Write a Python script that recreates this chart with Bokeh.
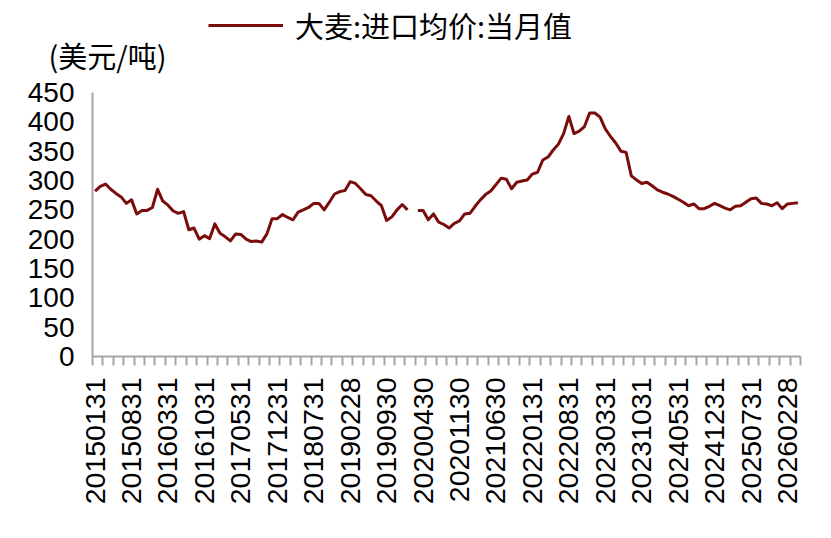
import math
from bokeh.plotting import figure
from bokeh.layouts import column
from bokeh.models import FixedTicker, Label, Legend, LegendItem, Range1d
from bokeh.embed import file_html
from bokeh.resources import INLINE

# ---- data ----
tick_labels = ["20150131", "20150831", "20160331", "20161031", "20170531",
               "20171231", "20180731", "20190228", "20190930", "20200430",
               "20201130", "20210630", "20220131", "20220831", "20230331",
               "20231031", "20240531", "20241231", "20250731", "20260228"]
label_step = 7
nan = float("nan")
values = [
    282, 290, 294, 285, 278, 272, 261, 267, 243, 249,
    249, 254, 285, 265, 258, 248, 244, 247, 216, 219,
    200, 206, 201, 226, 210, 204, 197, 209, 208, 200,
    196, 197, 195, 209, 235, 235, 242, 237, 233, 246,
    250, 254, 261, 261, 250, 263, 277, 281, 283, 298,
    295, 286, 276, 274, 265, 257, 232, 238, 250, 259,
    250, nan, 249, 249, 233, 243, 229, 225, 219, 227,
    231, 243, 244, 256, 267, 276, 282, 293, 304, 302,
    286, 297, 299, 301, 311, 314, 335, 340, 352, 362,
    380, 409, 380, 384, 392, 415, 415, 408, 388, 375,
    364, 350, 348, 308, 301, 295, 297, 291, 284, 280,
    277, 273, 268, 263, 257, 260, 252, 252, 256, 261,
    257, 253, 250, 256, 257, 263, 269, 270, 261, 260,
    257, 262, 252, 260, 261, 262,
]
series_name = "大麦:进口均价:当月值"
unit_label = "(美元/吨)"
y_ticks = [0, 50, 100, 150, 200, 250, 300, 350, 400, 450]

n = len(values)
xs = list(range(n))

LINE = "#7B0C0C"
AXIS = "#A6A6A6"
NUM_FONT = "Liberation Sans"
CJK_FONT = "Noto Sans CJK SC"
W = 815
TOP_H = 78
FRAME_LEFT, FRAME_RIGHT, FRAME_TOP, FRAME_BOTTOM = 92, 800, 92, 356

# ---- header strip (legend + unit label) ----
head = figure(width=W, height=TOP_H, output_backend="svg", toolbar_location=None,
              x_range=Range1d(0, 1), y_range=Range1d(0, 1),
              min_border=0, min_border_left=0, min_border_right=0,
              min_border_top=0, min_border_bottom=0)
head.axis.visible = False
head.grid.visible = False
head.outline_line_color = None
# legend swatch renderer: the series itself, kept outside the strip's visible range
swatch = head.line(xs, values, line_color=LINE, line_width=3)
legend = Legend(items=[LegendItem(label=series_name, renderers=[swatch])],
                location=(208, 32), orientation="horizontal",
                border_line_color=None, background_fill_alpha=0,
                padding=0, margin=0, spacing=0,
                glyph_width=75, glyph_height=30, label_height=30,
                label_standoff=12,
                label_text_font=CJK_FONT, label_text_font_size="29px",
                label_text_color="black")
head.add_layout(legend, "center")
head.add_layout(Label(x=48, y=24, x_units="screen", y_units="screen",
                      text=unit_label, text_baseline="middle", text_align="left",
                      text_font=CJK_FONT, text_font_size="29px", text_color="black"))

# ---- main chart ----
p = figure(width=W, height=522 - TOP_H, output_backend="svg", toolbar_location=None,
           x_range=Range1d(-0.5, n - 0.5), y_range=Range1d(0, 450),
           min_border_left=FRAME_LEFT, min_border_right=W - FRAME_RIGHT,
           min_border_top=FRAME_TOP - TOP_H, min_border_bottom=522 - FRAME_BOTTOM)
p.outline_line_color = None
p.xgrid.visible = False
p.ygrid.visible = False

p.line(xs, values, line_color=LINE, line_width=3, line_join="round")

# x axis
label_pos = list(range(0, n, label_step))[:len(tick_labels)]
bounds = [-0.5 + 2 * k for k in range(n // 2 + 1)]
p.xaxis.ticker = FixedTicker(ticks=label_pos, minor_ticks=bounds)
p.xaxis.major_label_overrides = {pos: lab for pos, lab in zip(label_pos, tick_labels)}
p.xaxis.major_label_orientation = math.pi / 2
p.xaxis.major_tick_line_color = None
p.xaxis.major_tick_out = 0
p.xaxis.major_tick_in = 0
p.xaxis.minor_tick_line_color = AXIS
p.xaxis.minor_tick_line_width = 2
p.xaxis.minor_tick_out = 9
p.xaxis.minor_tick_in = 0
p.xaxis.axis_line_color = AXIS
p.xaxis.axis_line_width = 2
p.xaxis.major_label_standoff = 12
p.xaxis.major_label_text_font = NUM_FONT
p.xaxis.major_label_text_font_size = "28.5px"
p.xaxis.major_label_text_color = "black"

# y axis
p.yaxis.ticker = FixedTicker(ticks=y_ticks)
p.yaxis.major_tick_line_color = None
p.yaxis.minor_tick_line_color = None
p.yaxis.major_tick_out = 0
p.yaxis.major_tick_in = 0
p.yaxis.axis_line_color = AXIS
p.yaxis.axis_line_width = 2
p.yaxis.major_label_standoff = 18
p.yaxis.major_label_text_font = NUM_FONT
p.yaxis.major_label_text_font_size = "28px"
p.yaxis.major_label_text_color = "black"

# wrap the header in its own column so its frame is not aligned with the chart's
layout = column(column(head), p, spacing=0)
open("out.html", "w").write(file_html(layout, INLINE))
